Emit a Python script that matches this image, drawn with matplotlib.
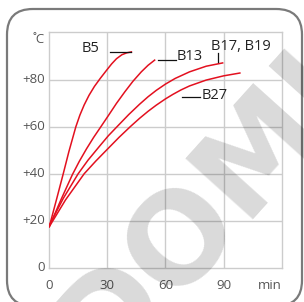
import matplotlib
matplotlib.use("Agg")
import matplotlib.pyplot as plt
from matplotlib.patches import FancyBboxPatch

# heating curves (minutes, degrees C)
b5_t = [0, 3.8, 7.2, 10.1, 13.7, 15.8, 18, 20.5, 23.3, 26.3, 29.5, 32.2, 34.7, 37.5, 40, 42.4]
b5_T = [17.5, 29.3, 40, 49.4, 60, 65, 69.3, 73.4, 77.2, 80.6, 84, 86.8, 89, 90.7, 91.5, 91.9]

b13_t = [0, 6, 11.9, 15.5, 19.2, 22.9, 26.6, 30.6, 34.7, 39, 43.2, 47.5, 51, 54.4]
b13_T = [17.5, 28.9, 39.6, 45.3, 50.6, 55.5, 60, 64.9, 70.0, 74.9, 79.4, 83.4, 86.2, 88.4]

b17_t = [0, 7.2, 14.9, 20, 25.8, 30.5, 35.5, 41, 46.6, 51, 55.2, 60, 65, 72.4, 81, 89.5]
b17_T = [18, 29.5, 40, 45.8, 51.6, 56.2, 60.5, 65.2, 69.6, 72.8, 75.5, 78.2, 80.6, 83.4, 85.8, 87.2]

b27_t = [0, 8.4, 18, 24, 30.4, 36, 42, 46.6, 51, 55.2, 60, 63.8, 68, 72.4, 81, 90, 98.4]
b27_T = [17.5, 28.9, 40, 45.4, 50.8, 55.5, 60.2, 63.6, 66.6, 69.2, 71.9, 73.8, 75.7, 77.4, 79.9, 81.7, 82.9]

x_ticks = [0, 30, 60, 90]
y_ticks = [0, 20, 40, 60, 80]
y_labels = ["0", "+20", "+40", "+60", "+80"]

# curve labels: text, text pos, leader line
labels = [
    ("B5", (25.8, 93.3), "right", [31.2, 42.4], [91.9, 91.9]),
    ("B13", (66.0, 90.0), "left", [56.0, 65.5], [88.4, 88.4]),
    ("B17, B19", (83.6, 94.2), "left", [86.9, 86.9], [91.4, 87.6]),
    ("B27", (78.5, 73.2), "left", [68.3, 77.9], [72.5, 72.5]),
]

plt.rcParams["font.family"] = ["Open Sans", "DejaVu Sans"]

W, H = 304, 302
fig = plt.figure(figsize=(W / 100, H / 100), dpi=100)
ax = fig.add_axes([49.3 / W, 1 - 267.7 / H, (281.7 - 49.3) / W, (267.7 - 31.7) / H])

grey = "#cccccc"
red = "#e3101f"
txt = "#555555"

for x in x_ticks[1:]:
    ax.axvline(x, color=grey, lw=1.0, zorder=1)
for y in y_ticks[1:]:
    ax.axhline(y, color=grey, lw=1.0, zorder=1)
for s in ax.spines.values():
    s.set_color(grey)
    s.set_linewidth(1.0)

for t, T in [(b5_t, b5_T), (b13_t, b13_T), (b17_t, b17_T), (b27_t, b27_T)]:
    ax.plot(t, T, color=red, lw=1.1, solid_joinstyle="round", zorder=3)

for name, (tx, ty), ha, lx, ly in labels:
    ax.text(tx, ty, name, ha=ha, va="center", fontsize=10.5, color="#222222")
    ax.plot(lx, ly, color="#111111", lw=0.9, zorder=3)

ax.set_xlim(0, 120)
ax.set_ylim(0, 100.5)
ax.set_xticks([])
ax.set_yticks([])

for x in x_ticks:
    ax.text(x, -7.5, str(x), ha="center", va="center", fontsize=9.5, color=txt)
ax.text(120, -7.5, "min", ha="right", va="center", fontsize=9.5, color=txt)
for y, lab in zip(y_ticks, y_labels):
    ax.text(-2.2, y, lab, ha="right", va="center", fontsize=9.5, color=txt)
ax.text(-2.2, 97, "˚C", ha="right", va="center", fontsize=9.5, color=txt)

# rounded frame
fig.add_artist(FancyBboxPatch((7 / W, 1 - 306 / H), (302 - 7) / W, (306 - 9) / H,
                              boxstyle="round,pad=0,rounding_size=0.085",
                              transform=fig.transFigure, fill=False,
                              edgecolor="#7a7a7a", lw=1.6, clip_on=False))

# watermark
fig.text(204 / W, 1 - 210 / H, "DOMI", rotation=48, rotation_mode="anchor",
         ha="center", va="center", fontsize=90, fontweight="bold",
         family="DejaVu Sans", color="black", alpha=0.15, zorder=10)

fig.savefig("out.png", dpi=100)
